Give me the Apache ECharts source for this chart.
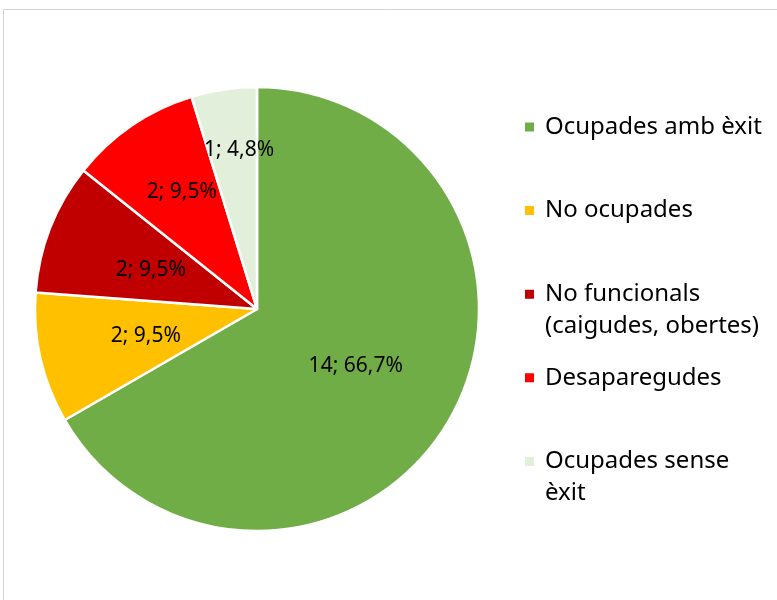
<!DOCTYPE html>
<html>
<head>
<meta charset="utf-8">
<script src="https://cdn.jsdelivr.net/npm/echarts@6/dist/echarts.min.js"></script>
<style>
  html, body { margin: 0; padding: 0; background: #fff; }
  #chart { width: 777px; height: 600px; }
</style>
</head>
<body>
<div id="chart"></div>
<script>
// categories (second line of the legend text after \n)
const categories = [
  'Ocupades amb èxit',
  'No ocupades',
  'No funcionals\n(caigudes, obertes)',
  'Desaparegudes',
  'Ocupades sense\nèxit'
];
const counts = [14, 2, 2, 2, 1];
const percents = ['66,7', '9,5', '9,5', '9,5', '4,8'];
const colors = ['#70AD47', '#FFC000', '#C00000', '#FF0000', '#E2EFDA'];

// label nudges (Excel pushes the thin slices' labels outward)
const labelShift = [[0, 0], [0, 2], [0, 3], [-11, -23], [-1, -46]];

const font = 'Noto Sans';
const chart = echarts.init(document.getElementById('chart'));

const pieData = categories.map((name, i) => ({
  name: name,
  value: counts[i],
  itemStyle: { color: colors[i] }
}));

const legendTop = 107;
const legendStep = 83.6;

// second lines of multi-line legend names, drawn under their first line
const extraLines = [];
categories.forEach((name, i) => {
  const parts = name.split('\n');
  if (parts.length > 1) {
    extraLines.push({
      type: 'text',
      left: 545,
      top: legendTop + i * legendStep + 40,
      style: { text: parts[1], font: '24px "' + font + '"', fill: '#000', textVerticalAlign: 'top' }
    });
  }
});

const option = {
  animation: false,
  graphic: [
    {
      type: 'rect',
      shape: { x: 3.5, y: 9.5, width: 900, height: 700 },
      style: { fill: 'none', stroke: '#d4d4d4', lineWidth: 1 }
    }
  ].concat(extraLines),
  legend: {
    orient: 'vertical',
    left: 518,
    top: legendTop,
    itemWidth: 11,
    itemHeight: 11,
    itemGap: legendStep - 30,
    icon: 'rect',
    formatter: name => name.split('\n')[0],
    textStyle: { fontFamily: font, fontSize: 24, color: '#000', lineHeight: 30, padding: [0, 0, 0, 5] },
    data: categories
  },
  series: [{
    type: 'pie',
    center: [257, 309],
    radius: 222,
    startAngle: 90,
    clockwise: true,
    silent: true,
    itemStyle: { borderColor: '#fff', borderWidth: 2.5 },
    label: {
      show: true,
      position: 'inside',
      fontFamily: font,
      fontSize: 21,
      color: '#000',
      formatter: p => counts[p.dataIndex] + '; ' + percents[p.dataIndex] + '%'
    },
    labelLayout: p => ({ dx: labelShift[p.dataIndex][0], dy: labelShift[p.dataIndex][1] }),
    labelLine: { show: false },
    data: pieData
  }]
};

chart.setOption(option);
</script>
</body>
</html>
